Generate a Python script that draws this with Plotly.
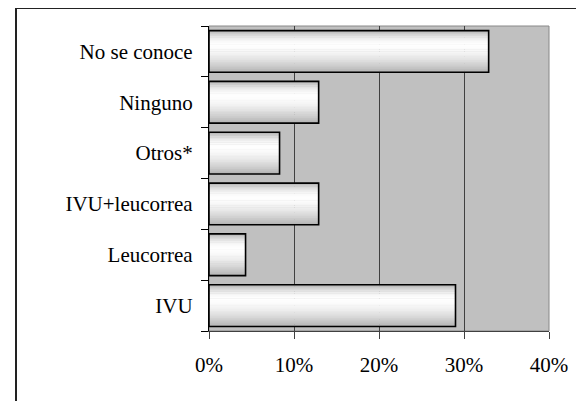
import plotly.graph_objects as go

categories = ["IVU", "Leucorrea", "IVU+leucorrea", "Otros*", "Ninguno", "No se conoce"]
values = [0.290, 0.043, 0.129, 0.083, 0.129, 0.329]
x_ticks = [0, 0.1, 0.2, 0.3, 0.4]
x_tick_labels = ["0%", "10%", "20%", "30%", "40%"]

OFF = 8
W, H = 584 - OFF, 401 - OFF
L, T = 209 - OFF, 26 - OFF
R = 35
B = H - (331 - OFF)
pw, ph = W - L - R, H - T - B

BAR_W = 0.82
N = 24


def shade(p):
    if p < 0.35:
        t = p / 0.35
        v = 178 + (254 - 178) * (1 - (1 - t) ** 2)
    else:
        t = (p - 0.35) / 0.65
        v = 254 - (254 - 176) * t ** 1.6
    v = int(round(v))
    return f"rgb({v},{v},{v})"


fig = go.Figure()
step = BAR_W / N
for i in range(N):
    p_center = 1 - (i + 0.5) / N
    fig.add_trace(go.Bar(
        x=values, y=categories, orientation="h",
        width=step * 1.25, offset=-BAR_W / 2 + i * step - step * 0.1,
        marker=dict(color=shade(p_center), line=dict(width=0)),
        showlegend=False, hoverinfo="skip",
    ))
fig.add_trace(go.Bar(
    x=values, y=categories, orientation="h",
    width=BAR_W, offset=-BAR_W / 2,
    marker=dict(color="rgba(0,0,0,0)", line=dict(color="black", width=1.6)),
    showlegend=False, hoverinfo="x+y",
))

font = dict(family="Liberation Serif", size=21, color="black")

fig.update_layout(
    width=W, height=H,
    margin=dict(l=L, r=R, t=T, b=B),
    paper_bgcolor="white",
    plot_bgcolor="#C0C0C0",
    barmode="overlay",
    font=font,
    xaxis=dict(
        range=[0, 0.4], tickvals=x_ticks, ticktext=x_tick_labels,
        showgrid=True, gridcolor="#404040", gridwidth=1,
        showline=True, linecolor="#404040", linewidth=1,
        ticks="outside", ticklen=7, tickcolor="#404040",
        zeroline=False, ticklabelstandoff=8,
        tickfont=font,
    ),
    yaxis=dict(
        type="category", categoryorder="array", categoryarray=categories,
        tickson="boundaries", ticks="outside", ticklen=7, tickcolor="black",
        showline=True, linecolor="black", linewidth=1.2,
        showgrid=False, ticklabelstandoff=11,
        tickfont=font,
    ),
    shapes=[
        dict(type="rect", xref="paper", yref="paper", x0=0, x1=1, y0=0, y1=1,
             line=dict(color="#888888", width=1), layer="below"),
        dict(type="line", xref="paper", yref="paper",
             x0=(8 - L) / pw, x1=(W + 5 - L) / pw,
             y0=1 + T / ph, y1=1 + T / ph,
             line=dict(color="#222222", width=2)),
        dict(type="line", xref="paper", yref="paper",
             x0=(8 - L) / pw, x1=(8 - L) / pw,
             y0=1 + T / ph, y1=-(B + 5) / ph,
             line=dict(color="#222222", width=2)),
    ],
)

fig.write_html("out.html")
